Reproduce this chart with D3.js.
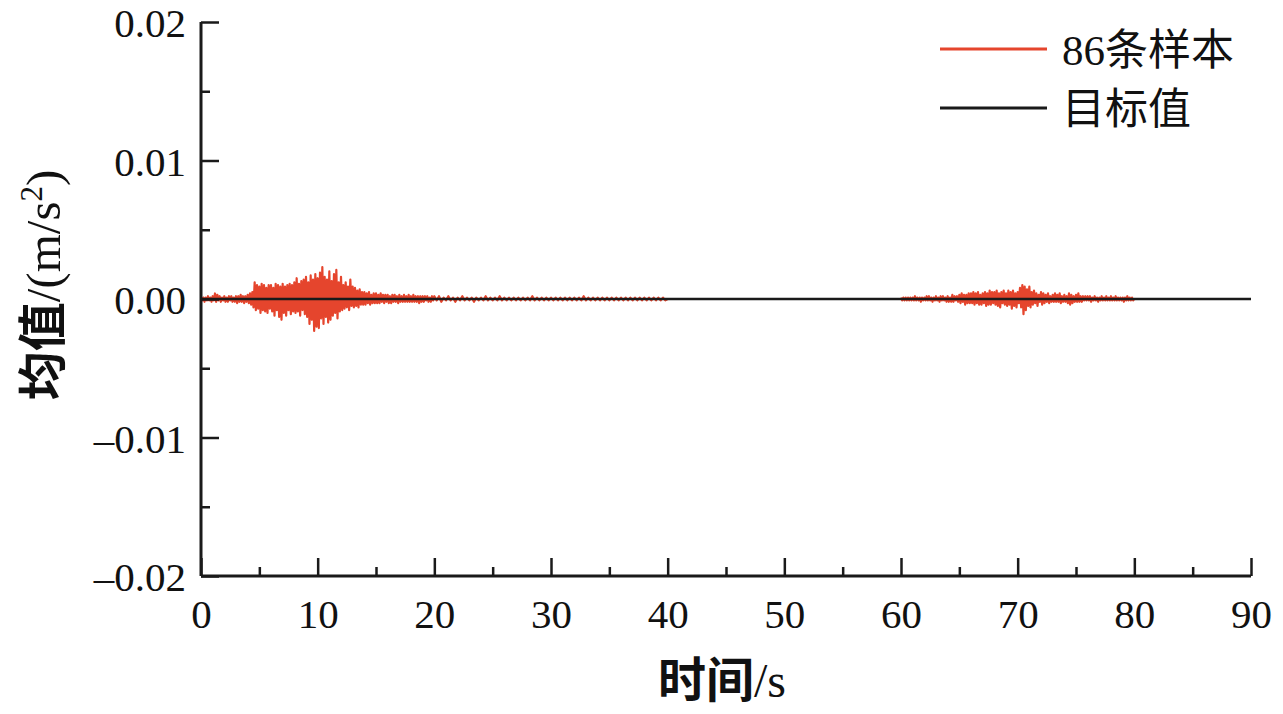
<!DOCTYPE html>
<html>
<head>
<meta charset="utf-8">
<script src="https://cdn.jsdelivr.net/npm/d3@7"></script>
<style>
  html, body { margin: 0; padding: 0; background: #fff; }
  svg { display: block; }
</style>
</head>
<body>
<svg id="chart" width="1283" height="714"></svg>
<script>
// ---------------- data ----------------
const xTicks = [0, 10, 20, 30, 40, 50, 60, 70, 80, 90];
const xMinorTicks = [5, 15, 25, 35, 45, 55, 65, 75, 85];
const yTicks = [-0.02, -0.01, 0.00, 0.01, 0.02];
const yTickLabels = ["\u20130.02", "\u20130.01", "0.00", "0.01", "0.02"];
const yMinorTicks = [-0.015, -0.005, 0.005, 0.015];

const seriesNames = ["86条样本", "目标值"];
const seriesColors = ["#e5452d", "#1a1a1a"];

// sample mean, units of 1e-4 m/s^2
const unitScale = 1e-4;
// segment A: t = 0.0 .. 19.9 s, step 0.1 s
const segAStart = 0, segAStep = 0.1;
const segAValues = [
  1,-1,1,-2,1,-1,2,-1,1,-2,
  2,-1,4,-2,3,-1,2,-2,1,-1,
  2,-2,1,-2,2,-1,2,-2,1,-2,
  2,-3,2,-2,3,-2,2,-3,2,-2,
  3,-3,4,-4,5,-6,12,-8,10,-7,
  9,-10,11,-8,10,-9,8,-10,10,-7,
  10,-9,8,-12,11,-8,10,-13,9,-15,
  11,-10,9,-12,10,-8,11,-11,10,-9,
  12,-10,15,-9,11,-12,13,-8,14,-11,
  16,-13,12,-18,17,-15,14,-23,18,-20,
  15,-21,19,-14,23,-18,16,-13,14,-17,
  20,-15,13,-12,18,-10,21,-14,12,-9,
  16,-8,10,-7,12,-6,9,-8,14,-5,
  9,-6,8,-5,6,-6,7,-4,5,-4,
  5,-4,4,-3,5,-4,3,-3,4,-3,
  4,-3,3,-3,4,-2,3,-3,3,-2,
  3,-3,2,-3,3,-2,3,-2,2,-3,
  3,-2,2,-2,3,-2,2,-2,3,-2,
  2,-2,3,-2,2,-2,2,-3,2,-2,
  2,-2,2,-1,2,-2,1,-2,2,-1
];
// segment B: t = 20 .. 40 s, step 0.2 s
const segBStart = 20, segBStep = 0.2;
const segBValues = [
  2,-1,2,-2,1,-1,2,-1,1,-2,
  1,-1,2,-1,1,-1,1,-2,1,-1,
  1,-1,2,-1,1,-1,1,-1,2,-1,
  1,-1,1,-1,1,-1,1,-1,1,-1,
  1,-1,2,-1,1,-1,1,-1,1,-1,
  1,-1,1,-1,1,-1,1,-1,1,-1,
  1,-1,1,-1,2,-1,1,-1,1,-1,
  1,-1,1,-1,1,-1,1,-1,1,-1,
  1,-1,1,-1,1,-1,1,-1,1,-1,
  1,-1,1,-1,1,-1,1,-1,1,-1,0
];
// segment C: t = 60 .. 80 s, step 0.1 s
const segCStart = 60, segCStep = 0.1;
const segCValues = [
  1,-1,1,-1,1,-1,1,-1,1,-1,
  1,-1,2,-1,1,-1,1,-2,1,-1,
  1,-1,2,-1,2,-1,1,-2,1,-1,
  2,-1,1,-2,2,-1,2,-1,1,-2,
  2,-2,1,-2,3,-2,2,-1,2,-2,
  3,-3,4,-2,3,-4,3,-3,4,-3,
  4,-3,5,-4,4,-3,5,-4,3,-4,
  4,-3,5,-5,4,-4,6,-4,5,-3,
  5,-4,6,-5,4,-6,5,-3,6,-4,
  4,-5,6,-4,5,-7,6,-5,4,-6,
  5,-3,8,-6,10,-11,9,-8,7,-5,
  9,-6,5,-4,6,-3,4,-5,3,-2,
  5,-4,4,-3,3,-2,4,-3,2,-2,
  3,-2,4,-2,3,-2,4,-3,2,-2,
  3,-2,2,-3,4,-4,3,-3,2,-2,
  3,-2,4,-2,2,-2,2,-1,2,-1,
  2,-1,2,-2,1,-1,2,-1,1,-2,
  1,-1,2,-1,1,-1,2,-1,1,-1,
  2,-1,1,-1,2,-1,1,-1,1,-1,
  1,-2,1,-1,2,-1,1,-1,1,-1,0
];
// target value line
const targetTimes = [0, 90];
const targetValues = [0, 0];

// ---------------- layout ----------------
const svg = d3.select("#chart");
const W = 1283, H = 714;
const margin = { left: 201, right: W - 1251, top: 22, bottom: H - 576 };
const x = d3.scaleLinear().domain([0, 90]).range([margin.left, W - margin.right]);
const y = d3.scaleLinear().domain([-0.02, 0.02]).range([H - margin.bottom, margin.top]);

const serif = '"Liberation Serif", Tinos, "DejaVu Serif", "Times New Roman", "Noto Sans CJK SC", serif';
const cjk = '"Noto Sans CJK SC", "Noto Sans CJK JP", sans-serif';

function toPoints(start, step, vals) {
  return vals.map((v, i) => ({ t: start + i * step, v: v * unitScale }));
}
const seg1 = toPoints(segAStart, segAStep, segAValues).concat(toPoints(segBStart, segBStep, segBValues));
const seg2 = toPoints(segCStart, segCStep, segCValues);
const target = targetTimes.map((t, i) => ({ t, v: targetValues[i] }));

const line = d3.line().x(d => x(d.t)).y(d => y(d.v));

[seg1, seg2].forEach(seg => {
  svg.append("path").datum(seg)
    .attr("d", line)
    .attr("fill", "none")
    .attr("stroke", seriesColors[0])
    .attr("stroke-width", 2.2)
    .attr("stroke-linejoin", "round");
});
svg.append("path").datum(target)
  .attr("d", line)
  .attr("fill", "none")
  .attr("stroke", seriesColors[1])
  .attr("stroke-width", 2.6);

// ---------------- axes ----------------
const axisColor = "#1a1a1a";
const xAxisG = svg.append("g").attr("transform", `translate(0,${y(-0.02)})`);
xAxisG.call(d3.axisBottom(x).tickValues(xTicks).tickSize(-18).tickPadding(23).tickFormat(d3.format("d")));
const xMinorG = svg.append("g").attr("transform", `translate(0,${y(-0.02)})`);
xMinorG.call(d3.axisBottom(x).tickValues(xMinorTicks).tickSize(-9).tickFormat(""));
xMinorG.select(".domain").remove();

const yAxisG = svg.append("g").attr("transform", `translate(${x(0)},0)`);
yAxisG.call(d3.axisLeft(y).tickValues(yTicks).tickSize(-18).tickPadding(15)
  .tickFormat((d, i) => yTickLabels[i]));
const yMinorG = svg.append("g").attr("transform", `translate(${x(0)},0)`);
yMinorG.call(d3.axisLeft(y).tickValues(yMinorTicks).tickSize(-9).tickFormat(""));
yMinorG.select(".domain").remove();

[xAxisG, yAxisG, xMinorG, yMinorG].forEach(g => {
  g.attr("font-family", null).attr("font-size", null);
  g.selectAll(".domain").attr("stroke", axisColor).attr("stroke-width", 3);
  g.selectAll(".tick line").attr("stroke", axisColor).attr("stroke-width", 2.5);
  g.selectAll(".tick text").attr("fill", "#111")
    .attr("font-family", serif).attr("font-size", 41);
});
xAxisG.select(".domain").attr("d", `M${x(0)},0H${x(90)}`);
yAxisG.select(".domain").attr("d", `M0,${y(-0.02)}V${y(0.02)}`);
yAxisG.selectAll(".tick text").attr("dy", "0.36em");

// ---------------- axis titles ----------------
const xTitle = svg.append("text")
  .attr("x", 722).attr("y", 697)
  .attr("text-anchor", "middle")
  .attr("font-size", 48)
  .attr("fill", "#111");
xTitle.append("tspan").text("时间").attr("font-family", cjk).attr("font-weight", "bold");
xTitle.append("tspan").text("/s").attr("font-family", serif);

const yTitle = svg.append("text")
  .attr("transform", `translate(60,285) rotate(-90)`)
  .attr("text-anchor", "middle")
  .attr("font-size", 49)
  .attr("fill", "#111");
yTitle.append("tspan").text("均值").attr("font-family", cjk).attr("font-weight", "bold");
yTitle.append("tspan").text("/(m/s").attr("font-family", serif);
yTitle.append("tspan").text("2").attr("font-family", serif).attr("font-size", 31).attr("dy", -18);
yTitle.append("tspan").text(")").attr("font-family", serif).attr("dy", 18);

// ---------------- legend ----------------
const legend = svg.append("g");
seriesNames.forEach((name, i) => {
  const ly = 49 + i * 59;
  legend.append("line")
    .attr("x1", 940).attr("x2", 1047).attr("y1", ly).attr("y2", ly)
    .attr("stroke", seriesColors[i]).attr("stroke-width", 3);
  legend.append("text")
    .attr("x", 1062).attr("y", ly + 16)
    .attr("font-family", serif)
    .attr("font-size", 43)
    .attr("fill", "#111")
    .text(name);
});
</script>
</body>
</html>
